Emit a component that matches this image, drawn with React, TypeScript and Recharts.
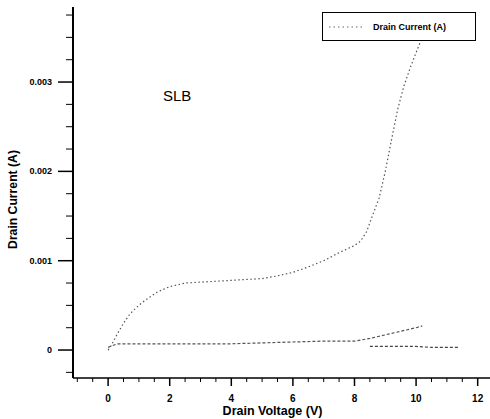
import React from 'react';
import { LineChart, Line, XAxis, YAxis } from 'recharts';

// drain voltage (V) / drain current (A)
const upperVd = [0, 0.1, 0.3, 0.5, 0.7, 0.9, 1.1, 1.3, 1.6, 2.0, 2.5, 3.0, 3.5, 4.0, 4.5, 5.0, 5.5, 6.0, 6.5, 7.0, 7.5, 8.0, 8.2, 8.4, 8.6, 8.8, 9.0, 9.2, 9.4, 9.6, 9.8, 10.0, 10.2];
const upperId = [0, 0.00005, 0.00018, 0.0003, 0.0004, 0.00047, 0.00053, 0.00058, 0.00065, 0.00071, 0.00075, 0.00076, 0.00077, 0.00078, 0.00079, 0.0008, 0.00083, 0.00087, 0.00093, 0.001, 0.00109, 0.00117, 0.00122, 0.00133, 0.00152, 0.0017, 0.002, 0.00235, 0.00269, 0.00295, 0.00315, 0.00333, 0.0035];

const flatVd = [0, 0.3, 1, 2, 3, 4, 5, 6, 7, 8, 8.5, 9, 9.5, 10, 10.2];
const flatId = [0.00003, 0.00007, 0.00007, 0.00007, 0.00007, 0.00007, 0.00008, 0.00009, 0.0001, 0.0001, 0.00013, 0.00017, 0.00021, 0.00025, 0.00027];

const tailVd = [8.5, 9, 9.5, 10, 10.5, 11, 11.4];
const tailId = [0.00004, 0.00004, 0.00004, 0.00004, 0.00003, 0.00003, 0.00003];

const xTicks = [-1, -0.5, 0, 0.5, 1, 1.5, 2, 2.5, 3, 3.5, 4, 4.5, 5, 5.5, 6, 6.5, 7, 7.5, 8, 8.5, 9, 9.5, 10, 10.5, 11, 11.5, 12];
const xLabels = [0, 2, 4, 6, 8, 10, 12];
const yTicks = [-0.00025, 0, 0.00025, 0.0005, 0.00075, 0.001, 0.00125, 0.0015, 0.00175, 0.002, 0.00225, 0.0025, 0.00275, 0.003, 0.00325, 0.0035, 0.00375];
const yLabels = ['0', '0.001', '0.002', '0.003'];

const toRows = (xs: number[], ys: number[]) => xs.map((v, i) => ({ vd: v, id: ys[i] }));

const font = '"Liberation Sans", Arial, sans-serif';

function XTick(props: any) {
  const { x, y, payload } = props;
  const major = xLabels.includes(payload.value);
  return (
    <g>
      <line x1={x} x2={x} y1={y} y2={y + (major ? 8 : 4)} stroke='#000' strokeWidth={major ? 1.5 : 1} />
      {major && (
        <text x={x} y={y + 24} textAnchor='middle' fontSize={10} fontWeight='bold' fontFamily={font} fill='#000'>
          {payload.value}
        </text>
      )}
    </g>
  );
}

function YTick(props: any) {
  const { x, y, payload } = props;
  const label = yLabels.find((l) => Math.abs(Number(l) - payload.value) < 1e-9);
  const major = label !== undefined;
  return (
    <g>
      <line x1={x - (major ? 15 : 7)} x2={x} y1={y} y2={y} stroke='#000' strokeWidth={major ? 1.5 : 1} />
      {major && (
        <text x={x - 21} y={y + 3} textAnchor='end' fontSize={9} fontWeight='bold' fontFamily={font} fill='#000'>
          {label}
        </text>
      )}
    </g>
  );
}

function XLabel(props: any) {
  const { viewBox } = props;
  const cx = viewBox.x + viewBox.width / 2 - 9;
  return (
    <text x={cx} y={415} textAnchor='middle' fontSize={12.5} fontWeight='bold' fontFamily={font} fill='#000'>
      Drain Voltage (V)
    </text>
  );
}

function YLabel(props: any) {
  const { viewBox } = props;
  const cy = viewBox.y + viewBox.height / 2 + 7;
  const cx = 17;
  return (
    <text
      x={cx}
      y={cy}
      transform={`rotate(-90 ${cx} ${cy})`}
      textAnchor='middle'
      fontSize={12.2}
      fontWeight='bold'
      fontFamily={font}
      fill='#000'
    >
      Drain Current (A)
    </text>
  );
}

export default function App() {
  return (
    <div style={{ position: 'absolute', left: 0, top: 0, width: 490, height: 419, background: '#fff', fontFamily: font }}>
      <LineChart width={490} height={419} margin={{ top: 7, right: 0, left: 0, bottom: 0 }}>
        <XAxis
          xAxisId='top'
          orientation='top'
          type='number'
          dataKey='vd'
          domain={[-1.14, 12.4]}
          allowDataOverflow
          height={0}
          tick={false}
          tickLine={false}
          axisLine={{ stroke: '#000', strokeWidth: 1.5 }}
        />
        <XAxis
          type='number'
          dataKey='vd'
          domain={[-1.14, 12.4]}
          allowDataOverflow
          ticks={xTicks}
          interval={0}
          height={41}
          tickSize={0}
          tickMargin={0}
          tickLine={false}
          tick={<XTick />}
          axisLine={{ stroke: '#000', strokeWidth: 1.5 }}
          label={<XLabel />}
        />
        <YAxis
          type='number'
          domain={[-0.000313, 0.00384]}
          allowDataOverflow
          ticks={yTicks}
          interval={0}
          width={73}
          tickSize={0}
          tickMargin={0}
          tickLine={false}
          tick={<YTick />}
          axisLine={{ stroke: '#000', strokeWidth: 2 }}
          label={<YLabel />}
        />
        <Line data={toRows(upperVd, upperId)} dataKey='id' type='linear' stroke='#555' strokeWidth={1.2} strokeDasharray='1.5 2.5' dot={false} isAnimationActive={false} />
        <Line data={toRows(flatVd, flatId)} dataKey='id' type='linear' stroke='#555' strokeWidth={1.2} strokeDasharray='3 2' dot={false} isAnimationActive={false} />
        <Line data={toRows(tailVd, tailId)} dataKey='id' type='linear' stroke='#444' strokeWidth={1.2} strokeDasharray='3 2' dot={false} isAnimationActive={false} />
      </LineChart>

      <div style={{ position: 'absolute', left: 163, top: 87, fontSize: 15, color: '#000' }}>SLB</div>

      <div
        style={{
          position: 'absolute',
          left: 322,
          top: 12,
          width: 152,
          height: 27,
          border: '1.5px solid #000',
          background: '#fff',
          display: 'flex',
          alignItems: 'center',
          fontSize: 9,
          fontWeight: 'bold',
        }}
      >
        <svg width={40} height={10} style={{ marginLeft: 6 }}>
          <line x1={0} x2={34} y1={5} y2={5} stroke='#666' strokeWidth={1} strokeDasharray='1.5 3' />
        </svg>
        <span style={{ marginLeft: 4 }}>Drain Current (A)</span>
      </div>
    </div>
  );
}
